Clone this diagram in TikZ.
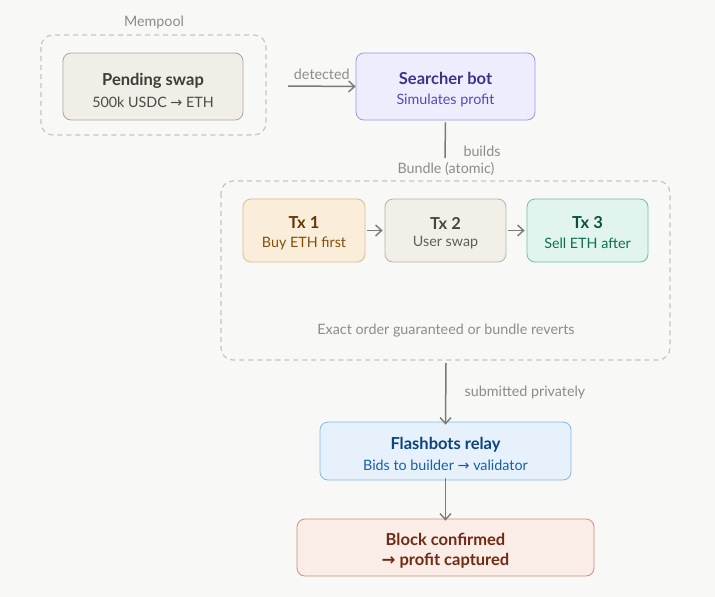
\documentclass[tikz,border=0pt]{standalone}
\usepackage{fontspec}
\setmainfont{Lato}
\newfontfamily\arrfont{DejaVu Sans}
\usetikzlibrary{arrows.meta}
\newcommand{\rarr}{{\arrfont\char"2192}}
\definecolor{bg}{HTML}{F8F8F6}
\definecolor{dash}{HTML}{C4C4C0}
\definecolor{lbl}{HTML}{8C8C88}
\definecolor{arr}{HTML}{7A7A76}
\definecolor{pendF}{HTML}{F1EEE8}\definecolor{pendD}{HTML}{ABA89F}
\definecolor{pendT}{HTML}{3D3D3A}\definecolor{pendS}{HTML}{4A4A47}
\definecolor{botF}{HTML}{EEEDFE}\definecolor{botD}{HTML}{9A96E6}
\definecolor{botT}{HTML}{3C3489}\definecolor{botS}{HTML}{534AB7}
\definecolor{aF}{HTML}{FAEEDA}\definecolor{aD}{HTML}{D9BB8C}
\definecolor{aT}{HTML}{633806}\definecolor{aS}{HTML}{854F0B}
\definecolor{bF}{HTML}{F1EFE8}\definecolor{bD}{HTML}{B4B2A9}
\definecolor{bT}{HTML}{444441}\definecolor{bS}{HTML}{5F5E5A}
\definecolor{cF}{HTML}{E1F5EE}\definecolor{cD}{HTML}{6CC2A4}
\definecolor{cT}{HTML}{085041}\definecolor{cS}{HTML}{0F6E56}
\definecolor{rF}{HTML}{E6F1FB}\definecolor{rD}{HTML}{85B7EB}
\definecolor{rT}{HTML}{0C447C}\definecolor{rS}{HTML}{185FA5}
\definecolor{kF}{HTML}{FAECE7}\definecolor{kD}{HTML}{D2907A}
\definecolor{kT}{HTML}{712B13}
\tikzset{
  box/.style={draw, rounded corners=8pt, line width=0.8pt, align=center, inner sep=0pt},
  grp/.style={draw=dash, dash pattern=on 5pt off 4pt, rounded corners=12pt, line width=1.2pt},
  ttl/.style={font=\bfseries\fontsize{16.5}{20}\selectfont},
  sub/.style={font=\fontsize{14.3}{17}\selectfont},
  glabel/.style={text=lbl, font=\fontsize{14.3}{17}\selectfont},
  conn/.style={draw=arr, line width=1.5pt, -{Straight Barb[length=6pt,width=11pt,line width=1.4pt]}},
}
\begin{document}
\begin{tikzpicture}[x=1pt,y=-1pt]
\fill[bg] (0,0) rectangle (715,597);
\useasboundingbox (0,0) rectangle (715,597);

% Mempool group
\draw[grp] (41,35) rectangle (266,135);
\node[glabel] (memlbl) at (154,22) {Mempool};
\node[box, fill=pendF, draw=pendD, minimum width=180pt, minimum height=67pt] (pend) at (153,86.5) {};
\node[ttl, text=pendT] at (153,81) {Pending swap};
\node[sub, text=pendS] at (153,102) {500k USDC \rarr{} ETH};

% Searcher bot
\node[box, fill=botF, draw=botD, minimum width=179pt, minimum height=67pt] (bot) at (445.5,86.5) {};
\node[ttl, text=botT] at (445.5,78) {Searcher bot};
\node[sub, text=botS] at (445.5,100) {Simulates profit};

\coordinate (detS) at (288,86);
\draw[conn] (detS) -- (bot.west) node[midway, above=3pt, glabel] {detected};

% builds
\coordinate (buildE) at (445,158);
\draw[draw=arr, line width=1.5pt] (bot.south) ++(0,2) -- (buildE);
\node[glabel] at (482,151) {builds};
\node[glabel] (bundlbl) at (446,169) {Bundle (atomic)};

% Bundle group
\draw[grp] (221,181) rectangle (670,360);
\node[box, fill=aF, draw=aD, minimum width=122pt, minimum height=63pt] (tx1) at (304,230.5) {};
\node[ttl, text=aT] at (304,223) {Tx 1};
\node[sub, text=aS] at (304,243) {Buy ETH first};
\node[box, fill=bF, draw=bD, minimum width=121pt, minimum height=63pt] (tx2) at (445.5,230.5) {};
\node[ttl, text=bT] at (445.5,223) {Tx 2};
\node[sub, text=bS] at (445.5,243) {User swap};
\node[box, fill=cF, draw=cD, minimum width=121pt, minimum height=63pt] (tx3) at (587.5,230.5) {};
\node[ttl, text=cT] at (587.5,223) {Tx 3};
\node[sub, text=cS] at (587.5,243) {Sell ETH after};
\draw[conn, line width=1.3pt] ([xshift=2pt]tx1.east) -- ([xshift=-2pt]tx2.west);
\draw[conn, line width=1.3pt] ([xshift=2pt]tx2.east) -- ([xshift=-2pt]tx3.west);
\node[glabel] (note) at (446,331) {Exact order guaranteed or bundle reverts};

% Flashbots relay
\coordinate (bundS) at (446,363);
\node[box, fill=rF, draw=rD, minimum width=251pt, minimum height=58pt] (relay) at (445.5,451) {};
\node[ttl, text=rT] at (445.5,445) {Flashbots relay};
\node[sub, text=rS] at (445.5,465) {Bids to builder \rarr{} validator};
\draw[conn] (bundS) -- ([yshift=-3pt]relay.north);
\node[glabel] at (525,392) {submitted privately};

% Block confirmed
\node[box, fill=kF, draw=kD, minimum width=297pt, minimum height=57pt] (block) at (445.5,547.5) {};
\node[ttl, text=kT] at (445.5,539) {Block confirmed};
\node[ttl, text=kT] at (445.5,561) {\rarr{} profit captured};
\draw[conn] ([yshift=2pt]relay.south) -- ([yshift=-2pt]block.north);
\end{tikzpicture}
\end{document}
